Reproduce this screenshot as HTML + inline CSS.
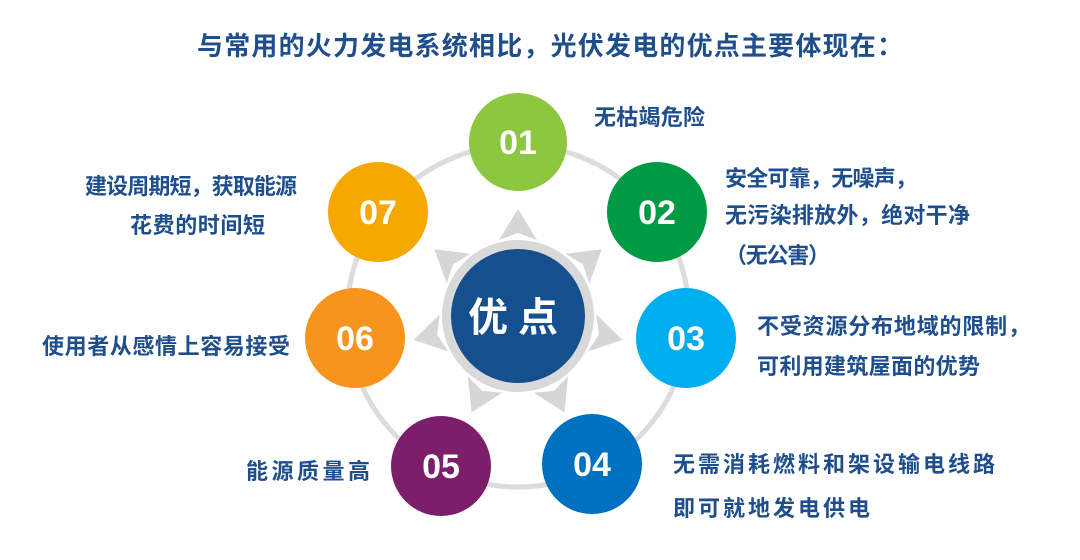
<!DOCTYPE html>
<html><head><meta charset="utf-8"><style>
body{margin:0;background:#fff;}
svg text{font-family:"Liberation Sans","Noto Sans CJK SC",sans-serif;font-weight:bold;}
.t{fill:#1f4e8c;font-size:22px;}
.n{fill:#fff;font-size:34px;text-anchor:middle;}
</style></head><body>
<svg width="1080" height="555" viewBox="0 0 1080 555" xmlns="http://www.w3.org/2000/svg">
<text x="197" y="55" textLength="706" lengthAdjust="spacing" style="fill:#1f4e8c;font-size:26px">与常用的火力发电系统相比，光伏发电的优点主要体现在：</text>
<circle cx="518" cy="316" r="171" fill="none" stroke="#dcdcdc" stroke-width="5"/>
<g fill="#d6d6d6">
<g id="a"><path d="M518 209 L537 240 L518 233 L499 240 Z"/></g>
<use href="#a" transform="rotate(51.43 518 316)"/>
<use href="#a" transform="rotate(102.86 518 316)"/>
<use href="#a" transform="rotate(154.29 518 316)"/>
<use href="#a" transform="rotate(205.71 518 316)"/>
<use href="#a" transform="rotate(257.14 518 316)"/>
<use href="#a" transform="rotate(308.57 518 316)"/>
</g>
<circle cx="518" cy="316" r="76" fill="#d9d9d9"/>
<circle cx="518" cy="316" r="67" fill="#154f8e"/>
<text x="518" y="331" text-anchor="middle" style="fill:#fff;font-size:40px;letter-spacing:10px">优点</text>
<circle cx="518" cy="142" r="49" fill="#8dc63f"/><text class="n" x="518" y="154">01</text>
<circle cx="657" cy="212" r="50" fill="#009a44"/><text class="n" x="657" y="224">02</text>
<circle cx="686" cy="338" r="50" fill="#00aeef"/><text class="n" x="686" y="350">03</text>
<circle cx="592" cy="464" r="50" fill="#0070c0"/><text class="n" x="592" y="476">04</text>
<circle cx="441" cy="466" r="50" fill="#7b1f6a"/><text class="n" x="441" y="478">05</text>
<circle cx="355" cy="338" r="50" fill="#f7941d"/><text class="n" x="355" y="350">06</text>
<circle cx="378" cy="212" r="50" fill="#f5a800"/><text class="n" x="378" y="224">07</text>
<text class="t" x="594" y="125" textLength="111" lengthAdjust="spacing">无枯竭危险</text>
<text class="t" x="725" y="186" textLength="192" lengthAdjust="spacing">安全可靠，无噪声，</text>
<text class="t" x="725" y="223" textLength="245" lengthAdjust="spacing">无污染排放外，绝对干净</text>
<text class="t" x="725" y="263" textLength="105" lengthAdjust="spacing">（无公害）</text>
<text class="t" x="757" y="334" textLength="273" lengthAdjust="spacing">不受资源分布地域的限制，</text>
<text class="t" x="757" y="374" textLength="223" lengthAdjust="spacing">可利用建筑屋面的优势</text>
<text class="t" x="673" y="472" textLength="322" lengthAdjust="spacing">无需消耗燃料和架设输电线路</text>
<text class="t" x="673" y="516" textLength="197" lengthAdjust="spacing">即可就地发电供电</text>
<text class="t" x="246" y="479" textLength="124" lengthAdjust="spacing">能源质量高</text>
<text class="t" x="42" y="354" textLength="248" lengthAdjust="spacing">使用者从感情上容易接受</text>
<text class="t" x="85" y="194" textLength="212" lengthAdjust="spacing">建设周期短，获取能源</text>
<text class="t" x="130" y="233" textLength="135" lengthAdjust="spacing">花费的时间短</text>
</svg>
</body></html>
